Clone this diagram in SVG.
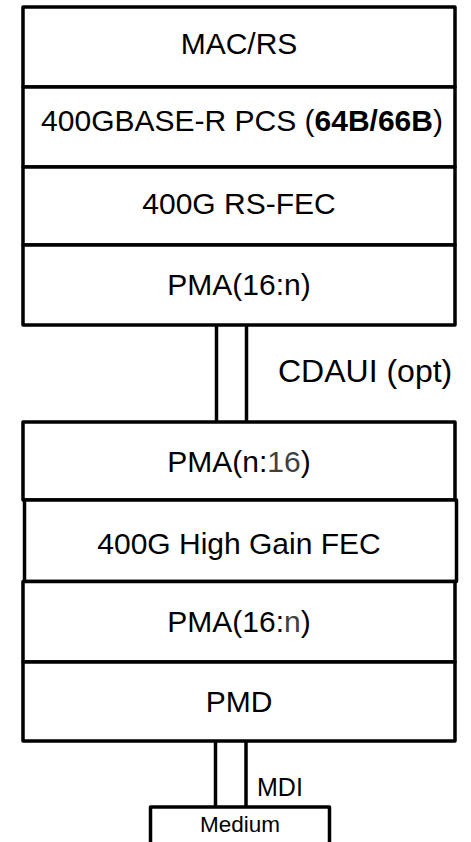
<svg xmlns="http://www.w3.org/2000/svg" width="471" height="842" viewBox="0 0 471 842">
<style>
.box{fill:#fff;stroke:#000;stroke-width:3.5;stroke-linejoin:round}
.ln{stroke:#000;stroke-width:3.5;fill:none}
.t{font-family:"Liberation Sans",Arial,sans-serif;font-size:30px;fill:#000;text-anchor:middle}
.s{font-family:"Liberation Sans",Arial,sans-serif;fill:#000}
.g{fill:#404040}
</style>
<rect width="471" height="842" fill="#fff"/>
<g id="connectors">
<line class="ln" x1="216.5" y1="325" x2="216.5" y2="422"/>
<line class="ln" x1="246.5" y1="325" x2="246.5" y2="422"/>
<line class="ln" x1="215.5" y1="741" x2="215.5" y2="807"/>
<line class="ln" x1="246" y1="741" x2="246" y2="807"/>
<text class="s" x="278" y="382" font-size="32">CDAUI (opt)</text>
<text class="s" x="257" y="796" font-size="25">MDI</text>
</g>
<g id="mac">
<rect class="box" x="23" y="7" width="432" height="80"/>
<text class="t" x="239" y="54">MAC/RS</text>
</g>
<g id="pcs">
<rect class="box" x="23" y="87" width="432" height="80"/>
<text class="t" x="242" y="131">400GBASE-R PCS (<tspan font-weight="bold">64B/66B</tspan>)</text>
</g>
<g id="rsfec">
<rect class="box" x="23" y="167" width="432" height="78"/>
<text class="t" x="239" y="214">400G RS-FEC</text>
</g>
<g id="pma1">
<rect class="box" x="23" y="245" width="432" height="80"/>
<text class="t" x="239" y="295">PMA(16:n)</text>
</g>
<g id="pma2">
<rect class="box" x="23" y="422" width="432" height="78"/>
<text class="t" x="239" y="472">PMA(n:<tspan class="g">16</tspan>)</text>
</g>
<g id="hgfec">
<rect class="box" x="24.5" y="500" width="432" height="81.5"/>
<text class="t" x="239" y="554">400G High Gain FEC</text>
</g>
<g id="pma3">
<rect class="box" x="23" y="581.5" width="432" height="80.5"/>
<text class="t" x="239" y="632">PMA(16:<tspan class="g">n</tspan>)</text>
</g>
<g id="pmd">
<rect class="box" x="23" y="662" width="432" height="79"/>
<text class="t" x="239" y="712">PMD</text>
</g>
<g id="medium">
<path class="box" d="M150.5,848 V807 H329.5 V848"/>
<text class="s" x="240" y="832" font-size="22.5" text-anchor="middle">Medium</text>
</g>
</svg>
